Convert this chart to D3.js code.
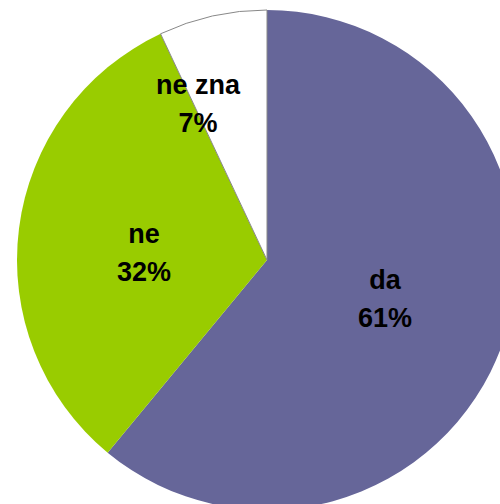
<!DOCTYPE html>
<html>
<head>
<meta charset="utf-8">
<script src="https://cdn.jsdelivr.net/npm/d3@7"></script>
<style>
  body { margin: 0; background: #fff; }
  svg { display: block; }
</style>
</head>
<body>
<div id="chart"></div>
<script>
const categories = ["da", "ne", "ne zna"];
const values = [61, 32, 7];
const colors = ["#666699", "#99cc00", "#ffffff"];

const width = 500;
const height = 504;
const cx = 267, cy = 260, radius = 250;

// label anchor (centre of the two text lines), per slice
const labelPos = [[385, 301], [144, 255], [198, 106]];

const svg = d3.select("#chart")
    .append("svg")
    .attr("width", width)
    .attr("height", height);

const pie = d3.pie().sort(null).value(d => d);
const arc = d3.arc().innerRadius(0).outerRadius(radius);

const g = svg.append("g").attr("transform", `translate(${cx},${cy})`);

const arcs = pie(values);

g.selectAll("path")
    .data(arcs)
    .join("path")
    .attr("d", arc)
    .attr("fill", (d, i) => colors[i])
    .attr("stroke", (d, i) => i === 2 ? "#888" : "none")
    .attr("stroke-width", 1);

const labels = svg.selectAll("text.lbl")
    .data(arcs)
    .join("text")
    .attr("class", "lbl")
    .attr("text-anchor", "middle")
    .attr("font-family", "Liberation Sans, Arial, sans-serif")
    .attr("font-weight", "bold")
    .attr("font-size", 27)
    .attr("fill", "#000");

labels.append("tspan")
    .attr("x", (d, i) => labelPos[i][0])
    .attr("y", (d, i) => labelPos[i][1] - 12)
    .text((d, i) => categories[i]);

labels.append("tspan")
    .attr("x", (d, i) => labelPos[i][0])
    .attr("y", (d, i) => labelPos[i][1] + 26)
    .text((d, i) => values[i] + "%");
</script>
</body>
</html>
